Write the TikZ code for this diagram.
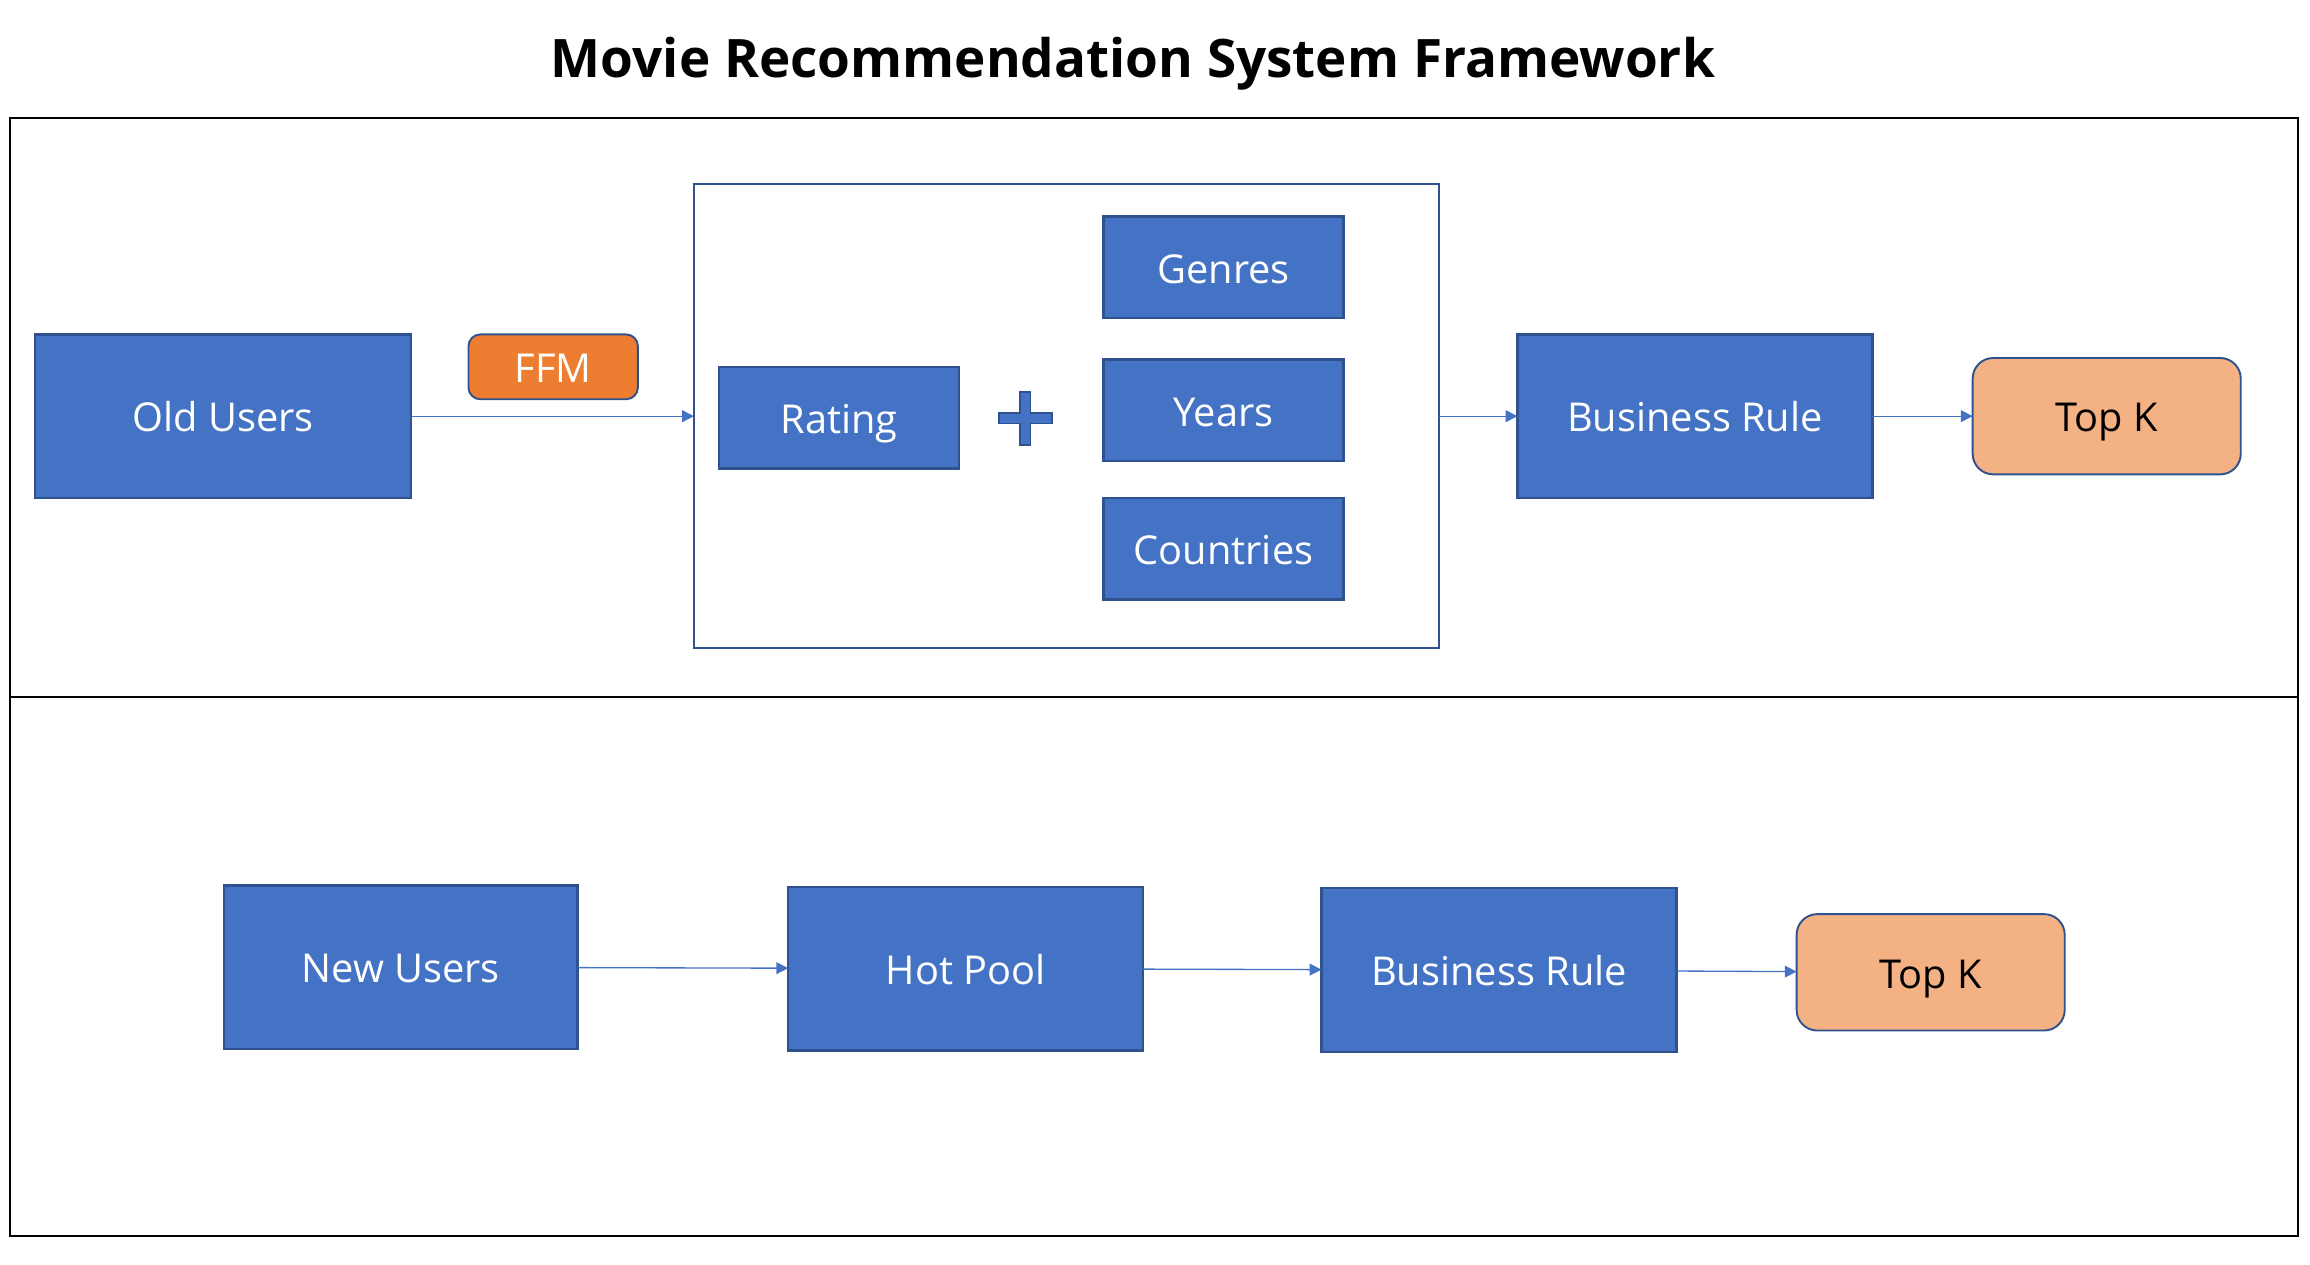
\documentclass[tikz,border=0pt]{standalone}
\usepackage{fontspec}
\setmainfont{Open Sans}
\usetikzlibrary{arrows.meta}
\definecolor{boxblue}{HTML}{4472C4}
\definecolor{boxedge}{HTML}{2F528F}
\definecolor{ffmorange}{HTML}{ED7D31}
\definecolor{topkorange}{HTML}{F4B183}
\tikzset{
  x=1pt, y=-1pt,
  boxtext/.style={font=\fontsize{27}{32}\selectfont, text height=22pt, text depth=0.6pt},
  bluebox/.style={draw=boxedge, fill=boxblue, line width=1.5pt, text=white, inner sep=0pt, outer sep=0pt, boxtext},
  topkbox/.style={draw=boxedge, fill=topkorange, line width=1.3pt, rounded corners=14pt, text=black, inner sep=0pt, outer sep=0pt,
    minimum width=182pt, minimum height=79pt, boxtext},
  ffmbox/.style={draw=boxedge, fill=ffmorange, line width=1.3pt, rounded corners=8pt, text=white, inner sep=0pt, outer sep=0pt,
    minimum width=115pt, minimum height=44pt, boxtext},
  groupbox/.style={draw=boxedge, fill=white, line width=1.2pt, inner sep=0pt, outer sep=0pt},
  frame/.style={draw=black, line width=1.5pt},
  arr/.style={draw=boxblue, line width=0.9pt, -{Triangle[length=8pt,width=8pt]}},
}
\begin{document}
\begin{tikzpicture}
\useasboundingbox (0,0) rectangle (1568,858);
\node[font=\bfseries\fontsize{36}{42}\selectfont] (title) at (769,43) {Movie Recommendation System Framework};
\draw[frame] (7,80) rectangle (1560,473);
\draw[frame] (7,473) rectangle (1560,839);
% top row
\node[groupbox, minimum width=506pt, minimum height=315pt] (group) at (724,282.5) {};
\node[bluebox, minimum width=255pt, minimum height=111pt] (old) at (151.5,282.5) {Old Users};
\node[ffmbox] (ffm) at (375.5,249) {FFM};
\node[bluebox, minimum width=163pt, minimum height=69pt] (rating) at (569.5,283.5) {Rating};
\node[bluebox, minimum width=163pt, minimum height=69pt] (genres) at (830.5,181.5) {Genres};
\node[bluebox, minimum width=163pt, minimum height=69pt] (years) at (830.5,278.5) {Years};
\node[bluebox, minimum width=163pt, minimum height=69pt] (countries) at (830.5,372.5) {Countries};
\draw[draw=boxedge, fill=boxblue, line width=1.2pt]
  (692.5,266) -- (699.5,266) -- (699.5,280.5) -- (714,280.5) -- (714,287.5) -- (699.5,287.5)
  -- (699.5,302) -- (692.5,302) -- (692.5,287.5) -- (678,287.5) -- (678,280.5) -- (692.5,280.5) -- cycle;
\node[bluebox, minimum width=241pt, minimum height=111pt] (br1) at (1150.5,282.5) {Business Rule};
\node[topkbox] (topk1) at (1430,282.5) {Top K};
\draw[arr] (old) -- (group);
\draw[arr] (group) -- (br1);
\draw[arr] (br1) -- (topk1);
% bottom row
\node[bluebox, minimum width=240pt, minimum height=111pt] (new) at (272,656.5) {New Users};
\node[bluebox, minimum width=241pt, minimum height=111pt] (hot) at (655.5,657.5) {Hot Pool};
\node[bluebox, minimum width=241pt, minimum height=111pt] (br2) at (1017.5,658.5) {Business Rule};
\node[topkbox] (topk2) at (1310.5,660) {Top K};
\draw[arr] (new) -- (hot);
\draw[arr] (hot) -- (br2);
\draw[arr] (br2) -- (topk2);
\end{tikzpicture}
\end{document}
